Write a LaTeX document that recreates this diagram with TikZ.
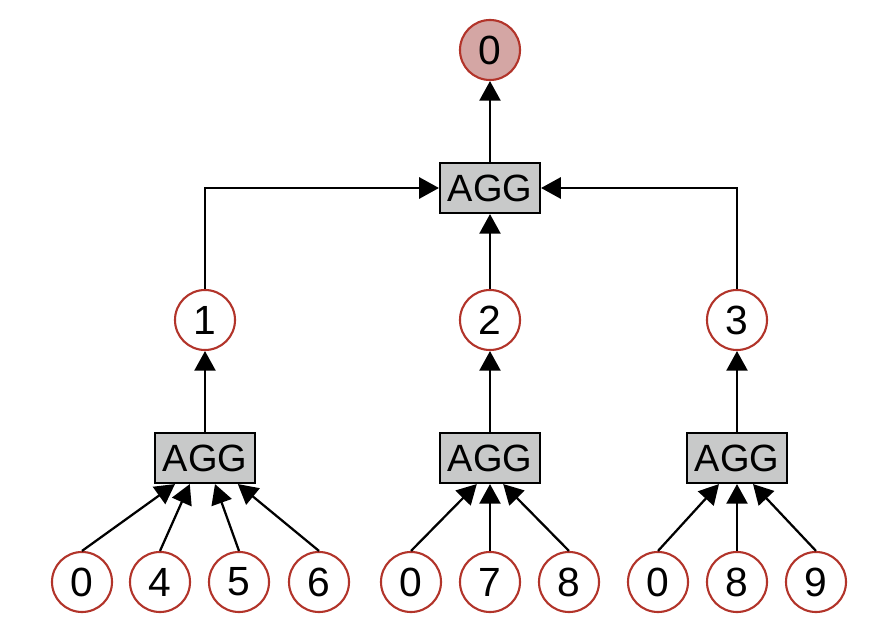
\documentclass[tikz,border=0pt]{standalone}
\usepackage{fontspec}
\setmainfont{Liberation Sans}
\usetikzlibrary{arrows.meta}
\definecolor{ringred}{RGB}{178,52,42}
\definecolor{rootfill}{RGB}{212,166,164}
\definecolor{aggfill}{RGB}{200,201,201}
\tikzset{
  num/.style={circle,draw=ringred,line width=1.5pt,fill=white,minimum size=1.5cm,inner sep=0pt,font=\fontsize{29}{33}\selectfont},
  aggbox/.style={rectangle,draw=black,line width=1.5pt,fill=aggfill,minimum width=2.5cm,minimum height=1.25cm,inner sep=0pt,font=\fontsize{27}{31}\selectfont},
  link/.style={line width=1.6pt,-{Triangle[length=14pt,width=15pt]}}
}

\begin{document}
\begin{tikzpicture}[x=0.025cm,y=-0.025cm]
\useasboundingbox (0,0) rectangle (890,636);
\node[num,fill=rootfill] (root) at (490,50) {0};
\node[aggbox] (agg) at (490,188) {AGG};
\node[num] (c1) at (205,320) {1};
\node[num] (c2) at (490,320) {2};
\node[num] (c3) at (737,320) {3};
\node[aggbox] (aggl) at (205,458) {AGG};
\node[aggbox] (aggm) at (490,458) {AGG};
\node[aggbox] (aggr) at (737,458) {AGG};
% leaves
\foreach \x/\t [count=\i] in {82/0,160/4,239/5,319/6,411/0,490/7,569/8,658/0,737/8,816/9}
  \node[num] (l\i) at (\x,582) {\t};
\path[link] (l1.north) edge ([xshift=-0.75cm]aggl.south)
  (l2.north) edge ([xshift=-0.38cm]aggl.south)
  (l3.north) edge ([xshift=0.25cm]aggl.south)
  (l4.north) edge ([xshift=0.82cm]aggl.south);
\path[link] (l5.north) edge ([xshift=-0.33cm]aggm.south)
  (l6.north) edge (aggm.south)
  (l7.north) edge ([xshift=0.33cm]aggm.south);
\path[link] (l8.north) edge ([xshift=-0.45cm]aggr.south)
  (l9.north) edge (aggr.south)
  (l10.north) edge ([xshift=0.4cm]aggr.south);
\path[link] (aggl) edge (c1) (aggm) edge (c2) (aggr) edge (c3)
  (c2) edge (agg) (agg) edge (root);
\draw[link] (c1) |- (agg);
\draw[link] (c3) |- (agg);
\end{tikzpicture}
\end{document}
